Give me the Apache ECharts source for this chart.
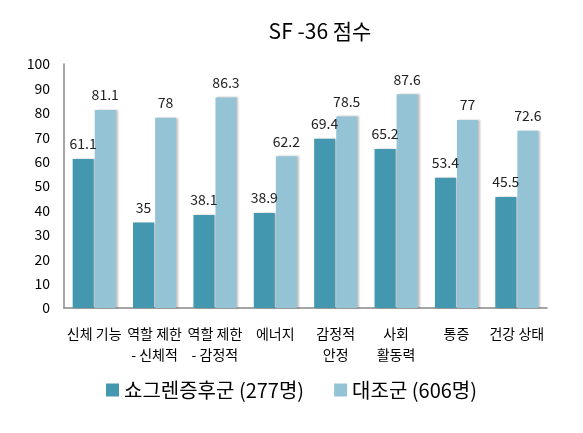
<!DOCTYPE html>
<html><head><meta charset="utf-8">
<script src="https://cdn.jsdelivr.net/npm/echarts@6/dist/echarts.min.js"></script>
<style>html,body{margin:0;padding:0;background:#fff}#c{width:583px;height:433px}</style>
</head><body><div id="c"></div>
<script>
const categories = ['신체 기능', '역할 제한\n- 신체적', '역할 제한\n- 감정적', '에너지', '감정적\n안정', '사회\n활동력', '통증', '건강 상태'];
const sjogren = [61.1, 35, 38.1, 38.9, 69.4, 65.2, 53.4, 45.5];
const control = [81.1, 78, 86.3, 62.2, 78.5, 87.6, 77, 72.6];
const seriesNames = ['쇼그렌증후군 (277명)', '대조군 (606명)'];
const FONT = '"Noto Sans CJK KR", "Noto Sans", sans-serif';
const chart = echarts.init(document.getElementById('c'));
const barStyle = c => ({color: c, shadowColor: 'rgba(0,0,0,0.25)', shadowOffsetX: 2, shadowOffsetY: 0, shadowBlur: 2});
const lbl = {show: true, position: 'top', distance: 8, color: '#222', fontSize: 14, fontFamily: FONT};
chart.setOption({
  animation: false,
  title: {text: 'SF -36 점수', left: 315, top: 16, textAlign: 'center',
    textStyle: {fontSize: 21, fontWeight: 'normal', color: '#000', fontFamily: FONT}},
  legend: {top: 375, left: 'center', itemWidth: 13, itemHeight: 13, itemGap: 30,
    icon: 'rect', textStyle: {fontSize: 20, color: '#000', fontFamily: FONT}},
  grid: {left: 64, right: 36, top: 64, bottom: 125},
  xAxis: {type: 'category', data: categories,
    axisLine: {lineStyle: {color: '#888', width: 1.5}}, axisTick: {show: false},
    axisLabel: {interval: 0, fontSize: 14, color: '#000', fontFamily: FONT, margin: 15, lineHeight: 21}},
  yAxis: {type: 'value', min: 0, max: 100, interval: 10,
    axisLine: {show: true, lineStyle: {color: '#888', width: 1.5}}, axisTick: {show: false},
    splitLine: {show: false},
    axisLabel: {fontSize: 14, color: '#000', fontFamily: FONT, margin: 14}},
  series: [
    {name: seriesNames[0], type: 'bar', data: sjogren, barWidth: 21, barGap: '5%',
      itemStyle: barStyle('#4397AF'), label: lbl},
    {name: seriesNames[1], type: 'bar', data: control, barWidth: 21,
      itemStyle: barStyle('#93C3D5'), label: lbl}
  ]
});
</script></body></html>
